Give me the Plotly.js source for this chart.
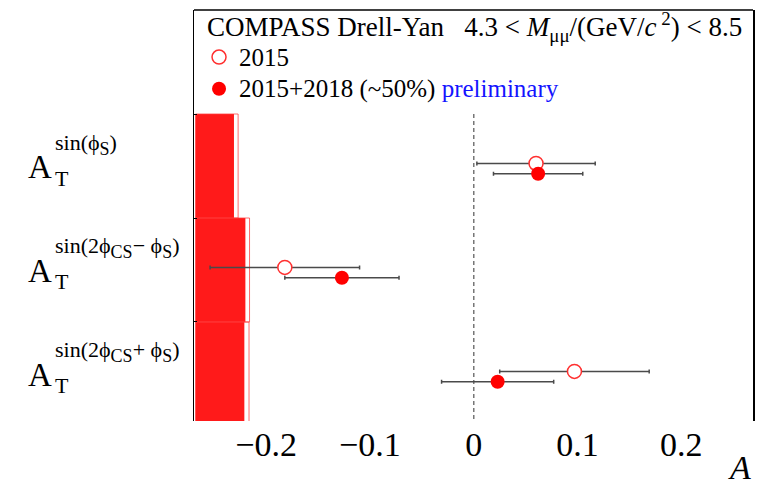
<!DOCTYPE html>
<html><head><meta charset="utf-8">
<script src="https://cdn.plot.ly/plotly-3.0.1.min.js"></script>
<style>html,body{margin:0;padding:0;background:#fff}#chart{width:758px;height:485px}</style>
</head><body><div id="chart"></div>
<script>
// asymmetry labels (superscripts of A_T), top to bottom
const sb = s => '<sub><span style="font-size:18px">' + s + '</span></sub>';
const rowLabels = ['sin(ϕ' + sb('S') + ')', 'sin(2ϕ' + sb('CS') + '− ϕ' + sb('S') + ')', 'sin(2ϕ' + sb('CS') + '+ ϕ' + sb('S') + ')'];
// 2015 data
const val2015 = [0.060, -0.182, 0.097];
const err2015 = [0.057, 0.072, 0.072];
const sys2015 = [0.041, 0.052, 0.0515];
// 2015+2018 (~50%) preliminary
const valComb = [0.062, -0.127, 0.023];
const errComb = [0.043, 0.055, 0.054];
const sysComb = [0.037, 0.048, 0.047];
// x-axis ticks
const xTickVals = [-0.2, -0.1, 0, 0.1, 0.2];
const xTickText = ['−0.2', '−0.1', '0', '0.1', '0.2'];
// legend / header texts
const headerText = 'COMPASS Drell-Yan   4.3 &lt; <i>M</i><sub>μμ</sub>/(GeV/<i>c</i><sup> 2</sup>) &lt; 8.5';
const name2015 = '2015';
const nameComb = '2015+2018 (~50%) <span style="color:#1414ff">preliminary</span>';

const FONT = 'Liberation Serif, Times New Roman, serif';
const idx = rowLabels.map((_, i) => i + 1);          // row band [i+1, i+2]
const yCenter = idx.map(v => v + 0.5);
const y2015 = idx.map(v => v + 0.475);
const yComb = idx.map(v => v + 0.575);
const sysBase = -0.268;
const big = s => '<span style="font-size:25px">' + s + '</span>';

const traces = [
  { type: 'bar', orientation: 'h', y: yCenter, x: sysComb, base: sysBase, width: 1,
    marker: { color: '#ff1a1a', line: { width: 0 } }, showlegend: false, hoverinfo: 'skip' },
  { type: 'bar', orientation: 'h', y: yCenter, x: sys2015, base: sysBase, width: 1,
    marker: { color: 'rgba(0,0,0,0)', line: { color: 'rgba(255,60,60,0.75)', width: 1 } }, showlegend: false, hoverinfo: 'skip' },
  { type: 'scatter', mode: 'markers', name: big(name2015), x: val2015, y: y2015,
    error_x: { type: 'data', array: err2015, color: '#4a4a4a', thickness: 1.5, width: 2 },
    marker: { symbol: 'circle', size: 14, color: '#ffffff', line: { color: '#ff3030', width: 1.5 } } },
  { type: 'scatter', mode: 'markers', name: big(nameComb), x: valComb, y: yComb,
    error_x: { type: 'data', array: errComb, color: '#4a4a4a', thickness: 1.5, width: 2 },
    marker: { symbol: 'circle', size: 14, color: '#ff0000', line: { width: 0 } } }
];

const annotations = [];
yCenter.forEach((yc, i) => {
  annotations.push({ xref: 'paper', yref: 'y', x: -0.3006, y: yc, xanchor: 'left', yanchor: 'middle', yshift: -1,
    text: 'A', showarrow: false, font: { family: FONT, size: 33, color: '#000' } });
  annotations.push({ xref: 'paper', yref: 'y', x: -0.2523, y: yc, xanchor: 'left', yanchor: 'middle', yshift: -12,
    text: 'T', showarrow: false, font: { family: FONT, size: 22, color: '#000' } });
  annotations.push({ xref: 'paper', yref: 'y', x: -0.2523, y: yc, xanchor: 'left', yanchor: 'middle', yshift: 22,
    text: rowLabels[i], showarrow: false, font: { family: FONT, size: 22, color: '#000' } });
});
annotations.push({ xref: 'paper', yref: 'paper', x: 1, y: 0, xanchor: 'right', yanchor: 'top', yshift: -26,
  text: '<i>A</i>', showarrow: false, font: { family: FONT, size: 34, color: '#000' } });
annotations.push({ xref: 'paper', yref: 'paper', x: 0.0197, y: 1, xanchor: 'left', yanchor: 'middle', yshift: -17,
  text: headerText, showarrow: false, font: { family: FONT, size: 27, color: '#000' } });

const layout = {
  width: 758, height: 485,
  margin: { l: 194, r: 5, t: 10, b: 64 },
  paper_bgcolor: '#fff', plot_bgcolor: '#fff',
  barmode: 'overlay',
  showlegend: true,
  legend: {
    x: 0.009, y: 0.936, xanchor: 'left', yanchor: 'top', bgcolor: 'rgba(0,0,0,0)', borderwidth: 0,
    font: { family: FONT, size: 22, color: '#000' },
    tracegroupgap: 0
  },
  xaxis: {
    range: [-0.2695, 0.269], showgrid: false, zeroline: false, showline: false,
    tickmode: 'array', tickvals: xTickVals, ticktext: xTickText, ticks: '',
    tickfont: { family: FONT, size: 34, color: '#000' }
  },
  yaxis: {
    range: [3.952, 0], showgrid: false, zeroline: false, showline: true, mirror: true,
    linecolor: '#000', linewidth: 1.5, showticklabels: false,
    tickmode: 'array', tickvals: [1, 2, 3], ticks: 'inside', ticklen: 3, tickcolor: '#000'
  },
  shapes: [
    { type: 'line', xref: 'paper', yref: 'paper', x0: 0, x1: 1, y0: 1, y1: 1, line: { color: '#000', width: 1.5 } },
    { type: 'line', xref: 'x', yref: 'y', x0: 0, x1: 0, y0: 1, y1: 3.952, layer: 'below', line: { color: '#777', width: 1.5, dash: '4px,3px' } }
  ],
  annotations: annotations
};

Plotly.newPlot('chart', traces, layout, { displayModeBar: false, staticPlot: true });
</script>
</body></html>
